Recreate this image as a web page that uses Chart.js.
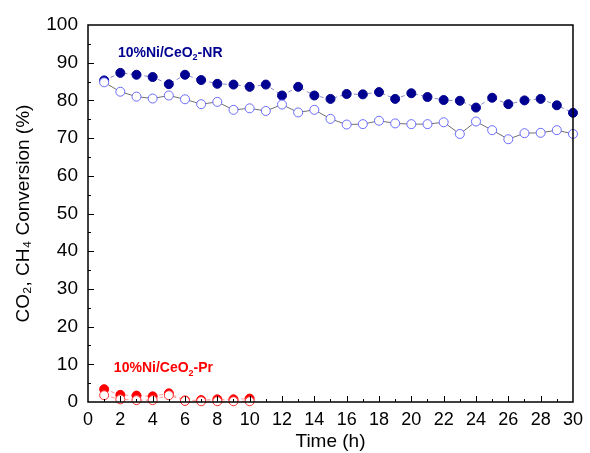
<!DOCTYPE html>
<html>
<head>
<meta charset="utf-8">
<script src="https://cdn.jsdelivr.net/npm/chart.js@4.4.1/dist/chart.umd.min.js"></script>
<style>
  html, body { margin: 0; padding: 0; background: #fff; }
  #wrap { width: 590px; height: 453px; }
</style>
</head>
<body>
<div id="wrap"><canvas id="c" width="590" height="453"></canvas></div>
<script>
// temps (h)
const hoursNR = [1,2,3,4,5,6,7,8,9,10,11,12,13,14,15,16,17,18,19,20,21,22,23,24,25,26,27,28,29,30];
const hoursPr = [1,2,3,4,5,6,7,8,9,10];

// 10%Ni/CeO2-NR : symboles pleins (CH4) et vides (CO2)
const nrFilled = [85.3,87.3,86.8,86.2,84.3,86.8,85.4,84.4,84.2,83.6,84.2,81.3,83.6,81.3,80.4,
                  81.7,81.6,82.2,80.4,81.9,80.9,80.1,79.9,78.1,80.7,79.0,80.0,80.4,78.7,76.7];
const nrOpen   = [84.8,82.3,81.0,80.5,81.3,80.3,79.0,79.6,77.5,77.9,77.2,78.9,76.8,77.5,75.1,
                  73.6,73.7,74.6,73.9,73.7,73.7,74.2,71.1,74.4,72.1,69.7,71.3,71.4,72.1,71.1];

// 10%Ni/CeO2-Pr
const prFilled = [3.4,1.9,1.7,1.5,2.3,0.4,0.5,0.7,0.7,0.9];
const prOpen   = [1.8,0.7,0.5,0.5,1.8,0.3,0.2,0.2,0.2,0.2];

const xTicks = [0,2,4,6,8,10,12,14,16,18,20,22,24,26,28,30];
const yTicks = [0,10,20,30,40,50,60,70,80,90,100];

const FONT = "'Liberation Sans', Arial, sans-serif";

function pts(xs, ys) {
    return xs.map((x, i) => ({ x: x, y: ys[i] }));
}

// ticks vers l'intérieur + cadre
const framePlugin = {
    id: 'frame',
    afterDraw(chart) {
        const ctx = chart.ctx;
        const a = chart.chartArea;
        const sx = chart.scales.x, sy = chart.scales.y;
        ctx.save();
        ctx.strokeStyle = '#000';
        ctx.lineWidth = 1;
        for (let v = 1; v < 30; v++) {
            const px = Math.round(sx.getPixelForValue(v)) + 0.5;
            const len = v % 2 === 0 ? 6 : 3;
            ctx.beginPath();
            ctx.moveTo(px, a.bottom);
            ctx.lineTo(px, a.bottom - len);
            ctx.stroke();
        }
        for (let v = 5; v < 100; v += 5) {
            const py = Math.round(sy.getPixelForValue(v)) + 0.5;
            const len = v % 10 === 0 ? 6 : 3;
            ctx.beginPath();
            ctx.moveTo(a.left, py);
            ctx.lineTo(a.left + len, py);
            ctx.stroke();
        }
        ctx.lineWidth = 1.5;
        ctx.strokeRect(a.left, a.top, a.right - a.left, a.bottom - a.top);
        ctx.restore();
    }
};

// étiquettes des catalyseurs avec indice
function drawSubLabel(ctx, x, y, parts, color) {
    ctx.fillStyle = color;
    ctx.textBaseline = 'middle';
    ctx.textAlign = 'left';
    let cx = x;
    ctx.font = 'bold 14px ' + FONT;
    ctx.fillText(parts[0], cx, y);
    cx += ctx.measureText(parts[0]).width;
    ctx.font = 'bold 9px ' + FONT;
    ctx.fillText(parts[1], cx, y + 5);
    cx += ctx.measureText(parts[1]).width;
    ctx.font = 'bold 14px ' + FONT;
    ctx.fillText(parts[2], cx, y);
}

const labelPlugin = {
    id: 'labels',
    afterDatasetsDraw(chart) {
        const ctx = chart.ctx;
        const sx = chart.scales.x, sy = chart.scales.y;
        ctx.save();
        drawSubLabel(ctx, sx.getPixelForValue(1.85), sy.getPixelForValue(92.6), ['10%Ni/CeO', '2', '-NR'], '#000090');
        drawSubLabel(ctx, sx.getPixelForValue(1.6), sy.getPixelForValue(9.0), ['10%Ni/CeO', '2', '-Pr'], '#ff0000');
        ctx.restore();
    }
};

new Chart(document.getElementById('c').getContext('2d'), {
    type: 'line',
    data: {
        datasets: [
            {
                label: 'NR open',
                data: pts(hoursNR, nrOpen),
                borderColor: '#707070',
                borderWidth: 1,
                pointRadius: 4.5,
                pointBorderWidth: 1,
                pointBorderColor: '#6a6aff',
                pointBackgroundColor: '#ffffff',
                order: 1
            },
            {
                label: 'NR filled',
                data: pts(hoursNR, nrFilled),
                borderColor: '#8a8ac8',
                borderWidth: 1,
                borderDash: [4, 3],
                pointRadius: 4.5,
                pointBorderWidth: 1,
                pointBorderColor: '#000090',
                pointBackgroundColor: '#000090',
                order: 2
            },
            {
                label: 'Pr open',
                data: pts(hoursPr, prOpen),
                borderColor: '#ff9a9a',
                borderWidth: 1,
                borderDash: [4, 3],
                pointRadius: 4.5,
                pointBorderWidth: 1,
                pointBorderColor: '#ff3030',
                pointBackgroundColor: '#ffffff',
                order: 3
            },
            {
                label: 'Pr filled',
                data: pts(hoursPr, prFilled),
                borderColor: '#ff9a9a',
                borderWidth: 1,
                borderDash: [4, 3],
                pointRadius: 4.5,
                pointBorderWidth: 1,
                pointBorderColor: '#ff0000',
                pointBackgroundColor: '#ff0000',
                order: 4
            }
        ]
    },
    options: {
        responsive: false,
        animation: false,
        clip: false,
        layout: { padding: { left: 0, right: 12, top: 25, bottom: 0 } },
        plugins: {
            legend: { display: false },
            tooltip: { enabled: false }
        },
        scales: {
            x: {
                type: 'linear',
                min: 0,
                max: 30,
                afterBuildTicks: s => { s.ticks = xTicks.map(v => ({ value: v })); },
                afterFit: s => { s.height = 51; },
                grid: { display: false, drawTicks: false },
                border: { display: false },
                ticks: {
                    color: '#000',
                    padding: 7,
                    maxRotation: 0,
                    autoSkip: false,
                    font: { family: FONT, size: 18 }
                },
                title: {
                    display: true,
                    text: 'Time (h)',
                    color: '#000',
                    padding: { top: 0, bottom: 0 },
                    font: { family: FONT, size: 19 }
                }
            },
            y: {
                type: 'linear',
                min: 0,
                max: 100,
                afterBuildTicks: s => { s.ticks = yTicks.map(v => ({ value: v })); },
                afterFit: s => { s.width = 88; },
                grid: { display: false, drawTicks: false },
                border: { display: false },
                ticks: {
                    color: '#000',
                    padding: 10,
                    autoSkip: false,
                    font: { family: FONT, size: 19 }
                },
                title: {
                    display: true,
                    text: 'CO\u2082, CH\u2084 Conversion (%)',
                    color: '#000',
                    padding: { top: 12, bottom: 0 },
                    font: { family: FONT, size: 19 }
                }
            }
        }
    },
    plugins: [framePlugin, labelPlugin]
});
</script>
</body>
</html>
